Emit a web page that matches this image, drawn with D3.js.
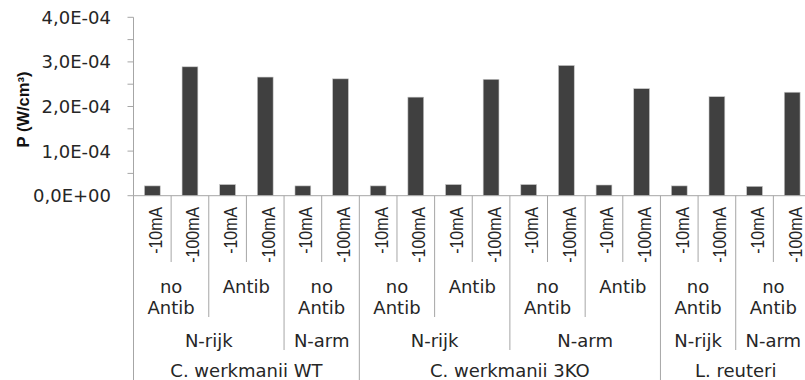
<!DOCTYPE html>
<html><head><meta charset="utf-8">
<script src="https://cdn.jsdelivr.net/npm/d3@7/dist/d3.min.js"></script>
<style>body{margin:0;background:#fff}svg{display:block}</style>
</head><body>
<svg id="chart" width="805" height="380"></svg>
<script>
// ---- data ----
const categories = ["-10mA","-100mA","-10mA","-100mA","-10mA","-100mA","-10mA","-100mA","-10mA","-100mA",
                    "-10mA","-100mA","-10mA","-100mA","-10mA","-100mA","-10mA","-100mA"];
const values = [2.2e-5, 2.89e-4, 2.5e-5, 2.66e-4, 2.2e-5, 2.62e-4,
                2.2e-5, 2.21e-4, 2.5e-5, 2.61e-4, 2.5e-5, 2.92e-4, 2.4e-5, 2.40e-4,
                2.2e-5, 2.22e-4, 2.1e-5, 2.32e-4];
const antibLabels = ["no Antib","Antib","no Antib","no Antib","Antib","no Antib","Antib","no Antib","no Antib"];
const antibSpans = [2,2,2,2,2,2,2,2,2];
const nitrogenLabels = ["N-rijk","N-arm","N-rijk","N-arm","N-rijk","N-arm"];
const nitrogenSpans = [4,2,4,4,2,2];
const speciesLabels = ["C. werkmanii WT","C. werkmanii 3KO","L. reuteri"];
const speciesSpans = [6,8,4];
const yMajorTicks = [0, 1e-4, 2e-4, 3e-4, 4e-4];
const yMinorTicks = [0, 0.5e-4, 1e-4, 1.5e-4, 2e-4, 2.5e-4, 3e-4, 3.5e-4, 4e-4];
const yTitle = "P (W/cm³)";

// ---- layout ----
const svg = d3.select("#chart");
const x0 = 133.5, x1 = 811, yTop = 17.3, yBot = 195.7;
const axisColor = "#a6a6a6";
const idx = d3.range(categories.length);
const x = d3.scaleBand().domain(idx).range([x0, x1]).paddingInner(0.58).paddingOuter(0.29);
const y = d3.scaleLinear().domain([0, 4e-4]).range([yBot, yTop]);
const step = x.step();
const edge = i => x0 + i * step;

function fmt(v) {
  if (v === 0) return "0,0E+00";
  const [m, e] = v.toExponential(1).split("e");
  const n = +e;
  return m.replace(".", ",") + "E" + (n < 0 ? "-" : "+") + String(Math.abs(n)).padStart(2, "0");
}

// bars
svg.append("g").selectAll("rect").data(idx).join("rect")
  .attr("x", i => x(i)).attr("width", x.bandwidth())
  .attr("y", i => y(values[i])).attr("height", i => yBot - y(values[i]))
  .attr("fill", "#404040").attr("stroke", "#c8c8c8").attr("stroke-width", 0.6);

// y axis
const yAxis = svg.append("g");
yAxis.append("line").attr("x1", x0).attr("x2", x0).attr("y1", yTop).attr("y2", yBot)
  .attr("stroke", axisColor);
yAxis.selectAll("line.t").data(yMinorTicks).join("line").attr("class", "t")
  .attr("x1", x0 - 6).attr("x2", x0).attr("y1", d => y(d)).attr("y2", d => y(d))
  .attr("stroke", axisColor);
yAxis.selectAll("text").data(yMajorTicks).join("text")
  .attr("x", 111).attr("y", d => y(d)).attr("dy", "0.36em")
  .attr("text-anchor", "end").attr("font-family", "DejaVu Sans").attr("font-size", 18)
  .attr("fill", "#262626").text(fmt);

svg.append("text").attr("transform", `translate(23,${(yTop + yBot) / 2 + 3}) rotate(-90)`)
  .attr("text-anchor", "middle").attr("dy", "0.35em")
  .attr("font-family", "Liberation Sans").attr("font-weight", "bold").attr("font-size", 16.5)
  .attr("fill", "#111").text(yTitle);

// x axis baseline
svg.append("line").attr("x1", x0).attr("x2", x1).attr("y1", yBot).attr("y2", yBot).attr("stroke", axisColor);

// separators: level 0 (all), level1 antib, level2 nitrogen, level3 species
const sepBottoms = [262, 317, 350, 380];
function boundaries(spans) { let s = 0; return spans.map(n => (s += n)); }
const levelBounds = [
  d3.range(1, categories.length + 1),
  boundaries(antibSpans),
  boundaries(nitrogenSpans),
  boundaries(speciesSpans)
];
const sepG = svg.append("g");
sepG.append("line").attr("x1", x0).attr("x2", x0).attr("y1", yBot).attr("y2", 380).attr("stroke", axisColor);
const maxLevel = {};
levelBounds.forEach((b, lvl) => b.forEach(k => { maxLevel[k] = lvl; }));
Object.keys(maxLevel).forEach(k => {
  const xx = edge(+k);
  sepG.append("line").attr("x1", xx).attr("x2", xx).attr("y1", yBot).attr("y2", sepBottoms[maxLevel[k]])
    .attr("stroke", axisColor);
});

// category labels (rotated)
svg.append("g").selectAll("text").data(idx).join("text")
  .attr("transform", i => `translate(${x(i) + x.bandwidth() / 2 + 3},207) rotate(-90) scale(0.86,1)`)
  .attr("text-anchor", "end").attr("dy", "0.35em")
  .attr("font-family", "Liberation Sans").attr("font-size", 18.5).attr("fill", "#262626")
  .text(i => categories[i]);

// grouped labels
function groupLabels(labels, spans, yFirst, lineH) {
  let s = 0;
  const g = svg.append("g");
  labels.forEach((lab, j) => {
    const cx = edge(s) + spans[j] * step / 2;
    const avail = spans[j] * step - 4;
    const t = g.append("text").attr("x", cx).attr("y", yFirst).attr("dy", "0.36em")
      .attr("text-anchor", "middle").attr("font-family", "DejaVu Sans").attr("font-size", 18)
      .attr("fill", "#262626").text(lab);
    if (t.node().getComputedTextLength() > avail && lab.includes(" ")) {
      t.text(null);
      lab.split(" ").forEach((w, k) => t.append("tspan").attr("x", cx).attr("y", yFirst + k * lineH).attr("dy", "0.36em").text(w));
    }
    s += spans[j];
  });
}
groupLabels(antibLabels, antibSpans, 287, 20.7);
groupLabels(nitrogenLabels, nitrogenSpans, 341, 20.7);
groupLabels(speciesLabels, speciesSpans, 371, 20.7);
</script>
</body></html>
